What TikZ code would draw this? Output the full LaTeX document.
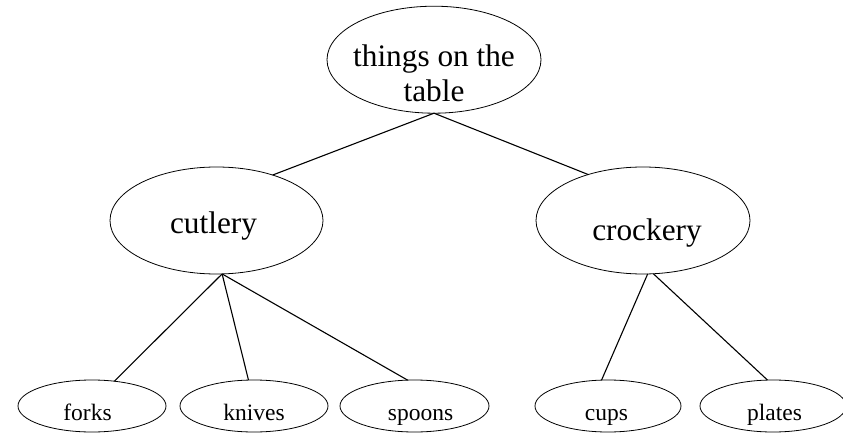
\documentclass[tikz,border=0pt]{standalone}
\usepackage{fontspec}
\setmainfont{Liberation Serif}
\usetikzlibrary{shapes.geometric}
% place a label at a fixed offset from the node centre without changing the node size
\newcommand{\shifttext}[3]{\raisebox{#2}[0pt][0pt]{\makebox[0pt]{\kern#1\relax#3\kern-#1\relax}}}
\begin{document}
\begin{tikzpicture}[x=1pt,y=-1pt,
  bubble/.style={ellipse,draw,line width=0.8pt,inner sep=0pt,outer sep=0pt},
  big/.style={bubble,font=\fontsize{31.3}{35}\selectfont,minimum height=107pt,minimum width=213pt},
  small/.style={bubble,font=\fontsize{23.5}{28}\selectfont,minimum height=52pt,minimum width=147pt},
  link/.style={line width=1.1pt}]
\useasboundingbox (0,0) rectangle (843,433);

% root
\node[big,minimum width=214pt] (top) at (434,59.7)
  {\shifttext{0pt}{-42pt}{\begin{tabular}[b]{@{}c@{}}things on the\\table\end{tabular}}};

% categories
\node[big] (cutlery) at (216.5,220.5) {\shifttext{-3pt}{-13pt}{cutlery}};
\node[big,minimum width=214pt] (crockery) at (643,220.5) {\shifttext{4pt}{-19.5pt}{crockery}};

% items
\node[small,minimum width=148pt] (forks) at (92,406) {\shifttext{-4.5pt}{-14.5pt}{forks}};
\node[small,minimum width=148pt] (knives) at (254,406) {\shifttext{0pt}{-14.5pt}{knives}};
\node[small,minimum width=149pt] (spoons) at (414.5,406) {\shifttext{6pt}{-14.5pt}{spoons}};
\node[small,minimum width=146pt] (cups) at (608,406) {\shifttext{-1.5pt}{-14.5pt}{cups}};
\node[small,minimum width=146pt] (plates) at (773,406) {\shifttext{1.5pt}{-14.5pt}{plates}};

% tree edges
\draw[link] (top.south) -- (cutlery.39);
\draw[link] (top.south) -- (crockery.140);
\draw[link] (cutlery.276) -- (forks.48);
\draw[link] (cutlery.276) -- (knives.102);
\draw[link] (cutlery.276) -- (spoons.105);
\draw[link] (crockery.275) -- (cups.104);
\draw[link] (crockery.281) -- (plates.102);
\end{tikzpicture}
\end{document}
